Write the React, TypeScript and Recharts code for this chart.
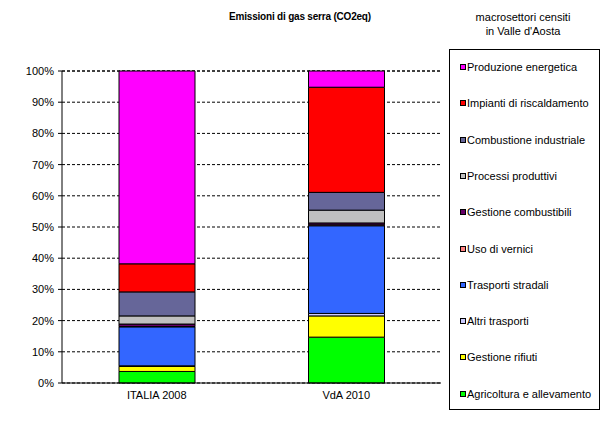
import { BarChart, Bar, XAxis, YAxis, CartesianGrid } from "recharts";

const categories = ["ITALIA 2008", "VdA 2010"];

// values in % of total, bottom of stack first
const agricoltura = [3.7, 14.7];
const gestioneRifiuti = [1.6, 6.8];
const altriTrasporti = [0.2, 0.8];
const trasportiStradali = [12.5, 28.1];
const usoVernici = [0.1, 0.3];
const gestioneCombustibili = [0.8, 0.6];
const processiProduttivi = [2.6, 4.1];
const combustioneIndustriale = [7.7, 5.7];
const impiantiRiscaldamento = [9.0, 33.7];
const produzioneEnergetica = [61.8, 5.2];

const yTicks = [0, 10, 20, 30, 40, 50, 60, 70, 80, 90, 100];

const series = [
  { key: "agr", name: "Agricoltura e allevamento", color: "#00FF00", values: agricoltura },
  { key: "rif", name: "Gestione rifiuti", color: "#FFFF00", values: gestioneRifiuti },
  { key: "alt", name: "Altri trasporti", color: "#CCCCFF", values: altriTrasporti },
  { key: "tra", name: "Trasporti stradali", color: "#3366FF", values: trasportiStradali },
  { key: "ver", name: "Uso di vernici", color: "#FF8080", values: usoVernici },
  { key: "com", name: "Gestione combustibili", color: "#660066", values: gestioneCombustibili },
  { key: "pro", name: "Processi produttivi", color: "#C0C0C0", values: processiProduttivi },
  { key: "ind", name: "Combustione industriale", color: "#666699", values: combustioneIndustriale },
  { key: "ris", name: "Impianti di riscaldamento", color: "#FF0000", values: impiantiRiscaldamento },
  { key: "ene", name: "Produzione energetica", color: "#FF00FF", values: produzioneEnergetica },
];

const data = categories.map((name, i) => {
  const row: Record<string, string | number> = { name };
  series.forEach((s) => (row[s.key] = s.values[i]));
  return row;
});

const font = "'Liberation Sans', Arial, sans-serif";

export default function App() {
  return (
    <div
      style={{
        position: "absolute",
        left: 0,
        top: 0,
        width: 601,
        height: 422,
        background: "#fff",
        fontFamily: font,
        color: "#000",
      }}
    >
      <div
        style={{
          position: "absolute",
          left: 200,
          width: 200,
          top: 11,
          textAlign: "center",
          fontSize: 10,
          fontWeight: "bold",
          letterSpacing: -0.2,
        }}
      >
        Emissioni di gas serra (CO2eq)
      </div>
      <div
        style={{
          position: "absolute",
          left: 443,
          width: 160,
          top: 10,
          textAlign: "center",
          fontSize: 11,
          lineHeight: "14px",
        }}
      >
        macrosettori censiti
        <br />
        in Valle d'Aosta
      </div>

      <BarChart
        width={601}
        height={422}
        data={data}
        margin={{ top: 71, right: 160, left: 8, bottom: 19 }}
      >
        <CartesianGrid vertical={false} stroke="#000" strokeDasharray="3 2" />
        <XAxis
          dataKey="name"
          height={20}
          tickLine={false}
          axisLine={{ stroke: "#000" }}
          tick={{ fontSize: 11, fill: "#000", fontFamily: font }}
        />
        <YAxis
          width={54}
          domain={[0, 100]}
          ticks={yTicks}
          tickFormatter={(v: number) => `${v}%`}
          tickSize={4}
          tickMargin={4}
          axisLine={{ stroke: "#000" }}
          tickLine={{ stroke: "#000" }}
          tick={{ fontSize: 11, fill: "#000", fontFamily: font }}
        />
        {series.map((s) => (
          <Bar
            key={s.key}
            dataKey={s.key}
            name={s.name}
            stackId="a"
            fill={s.color}
            stroke="#000"
            strokeWidth={1}
            barSize={76}
            isAnimationActive={false}
          />
        ))}
      </BarChart>

      <div
        style={{
          position: "absolute",
          left: 449,
          top: 49,
          width: 151,
          height: 361,
          border: "1px solid #000",
          boxSizing: "border-box",
        }}
      >
        {[...series].reverse().map((s, i) => (
          <div
            key={s.key}
            style={{
              position: "absolute",
              left: 10,
              top: 10 + i * 36.3,
              fontSize: 11,
              lineHeight: "14px",
              whiteSpace: "nowrap",
              display: "flex",
              alignItems: "center",
            }}
          >
            <span
              style={{
                display: "inline-block",
                width: 4,
                height: 4,
                border: "1px solid #000",
                background: s.color,
                marginRight: 1,
              }}
            />
            {s.name}
          </div>
        ))}
      </div>
    </div>
  );
}
